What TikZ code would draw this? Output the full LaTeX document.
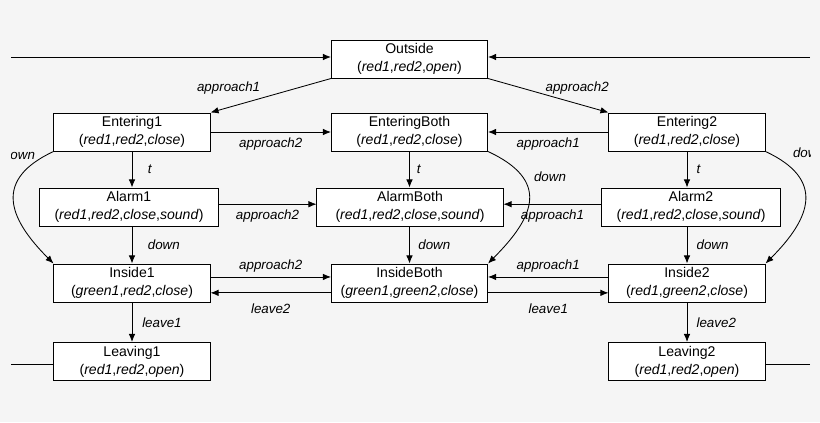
\documentclass[tikz,border=0pt]{standalone}
\usepackage{fontspec}
\setmainfont{Liberation Sans}
\usetikzlibrary{arrows.meta,positioning}

\begin{document}
\begin{tikzpicture}[
  x=0.025cm, y=-0.025cm,
  state/.style={rectangle,draw,fill=white,line width=0.7pt,minimum width=3.9cm,
    minimum height=0.95cm,inner sep=1pt,align=center,font=\fontsize{10}{13}\selectfont,
    execute at begin node={\rule{0pt}{11.5pt}}},
  widestate/.style={state,minimum width=4.45cm},
  lbl/.style={font=\fontsize{9.5}{11}\selectfont\itshape,inner sep=1pt},
  arr/.style={-{Latex[length=5.7pt,width=4.6pt]},line width=0.6pt},
]
  \useasboundingbox (0,0) rectangle (820,422);
  \fill[gray!8] (0,0) rectangle (820,422);

  % states
  \node[state] (Out) at (409.5,59) {Outside\\(\textit{red1},\textit{red2},\textit{open})};

  \node[state] (E1) at (132,132) {Entering1\\(\textit{red1},\textit{red2},\textit{close})};
  \node[state] (EB) at (409.5,132) {EnteringBoth\\(\textit{red1},\textit{red2},\textit{close})};
  \node[state] (E2) at (687,132) {Entering2\\(\textit{red1},\textit{red2},\textit{close})};

  \node[widestate] (A1) at (129,207) {Alarm1\\(\textit{red1},\textit{red2},\textit{close},\textit{sound})};
  \node[state,minimum width=4.65cm] (AB) at (410,207) {AlarmBoth\\(\textit{red1},\textit{red2},\textit{close},\textit{sound})};
  \node[widestate] (A2) at (691,207) {Alarm2\\(\textit{red1},\textit{red2},\textit{close},\textit{sound})};

  \node[state] (I1) at (132,283) {Inside1\\(\textit{green1},\textit{red2},\textit{close})};
  \node[state] (IB) at (409.5,283) {InsideBoth\\(\textit{green1},\textit{green2},\textit{close})};
  \node[state] (I2) at (687,283) {Inside2\\(\textit{red1},\textit{green2},\textit{close})};

  \node[state] (L1) at (132,361.5) {Leaving1\\(\textit{red1},\textit{red2},\textit{open})};
  \node[state] (L2) at (687,361.5) {Leaving2\\(\textit{red1},\textit{red2},\textit{open})};

  % ends going out of the picture
  \coordinate (inL) at (11,57);
  \coordinate (inR) at (810,57);
  \coordinate (outL) at (11,364);
  \coordinate (outR) at (810,364);
  \draw[arr] (inL) -- (inL -| Out.west);
  \draw[arr] (inR) -- (inR -| Out.east);
  \draw[line width=0.6pt] (outL) -- (outL -| L1.west);
  \draw[line width=0.6pt] (outR) -- (outR -| L2.east);

  % from Outside
  \draw[arr] (Out.south west) -- node[lbl,pos=0.85,above=8.2pt] (lOE1) {approach1} (E1.north east);
  \draw[arr] (Out.south east) -- node[lbl,pos=0.74,above=5.2pt] (lOE2) {approach2} (E2.north west);

  % second train comes in
  \draw[arr] (E1) -- node[lbl,below=3pt] (lE1) {approach2} (EB);
  \draw[arr] (E2) -- node[lbl,below=3pt] (lE2) {approach1} (EB);
  \draw[arr] ([yshift=2pt]A1.east) -- node[lbl,below=3pt] (lA1) {approach2} ([yshift=2pt]AB.west);
  \draw[arr] ([yshift=2pt]A2.west) -- node[lbl,below=3pt] (lA2) {approach1} ([yshift=2pt]AB.east);
  \draw[arr] ([yshift=4.3pt]I1.east) -- node[lbl,above=2.2pt] (lI1) {approach2} ([yshift=4.3pt]IB.west);
  \draw[arr] ([yshift=4.3pt]I2.west) -- node[lbl,above=2.2pt] (lI2) {approach1} ([yshift=4.3pt]IB.east);

  % one train leaves
  \draw[arr] ([yshift=-7pt]IB.west) -- node[lbl,below=6.5pt] (lB1) {leave2} ([yshift=-7pt]I1.east);
  \draw[arr] ([yshift=-7pt]IB.east) -- node[lbl,below=6.5pt] (lB2) {leave1} ([yshift=-7pt]I2.west);

  % down the columns
  \draw[arr] (E1) -- node[lbl,right=10pt] (t1) {t} (E1 |- A1.north);
  \draw[arr] (A1.south -| I1) -- node[lbl,right=10pt] (d1) {down} (I1);
  \draw[arr] (I1) -- node[lbl,right=6pt] (v1) {leave1} (L1);

  \draw[arr] (EB) -- node[lbl,right=4pt] (tB) {t} (EB |- AB.north);
  \draw[arr] (AB.south -| IB) -- node[lbl,right=5pt] (dB) {down} (IB);

  \draw[arr] (E2) -- node[lbl,right=5.5pt] (t2) {t} (E2 |- A2.north);
  \draw[arr] (A2.south -| I2) -- node[lbl,right=5.5pt] (d2) {down} (I2);
  \draw[arr] (I2) -- node[lbl,right=5.5pt] (v2) {leave2} (L2);

  % gate goes down while entering
  \draw[arr] (E1.south west) to[out=205,in=135,looseness=1.5] (I1.north west);
  \draw[arr] (EB.south east) to[out=-25,in=45,looseness=1.55] (IB.north east);
  \draw[arr] (E2.south east) to[out=-25,in=45,looseness=1.5] (I2.north east);

  \begin{scope}
    \clip (11,0) rectangle (810,422);
    \node[lbl] (dnL) at (19,155) {down};
    \node[lbl] (dnR) at (809,153) {down};
  \end{scope}
  \node[lbl] (dnB) at (550,177) {down};
\end{tikzpicture}
\end{document}
